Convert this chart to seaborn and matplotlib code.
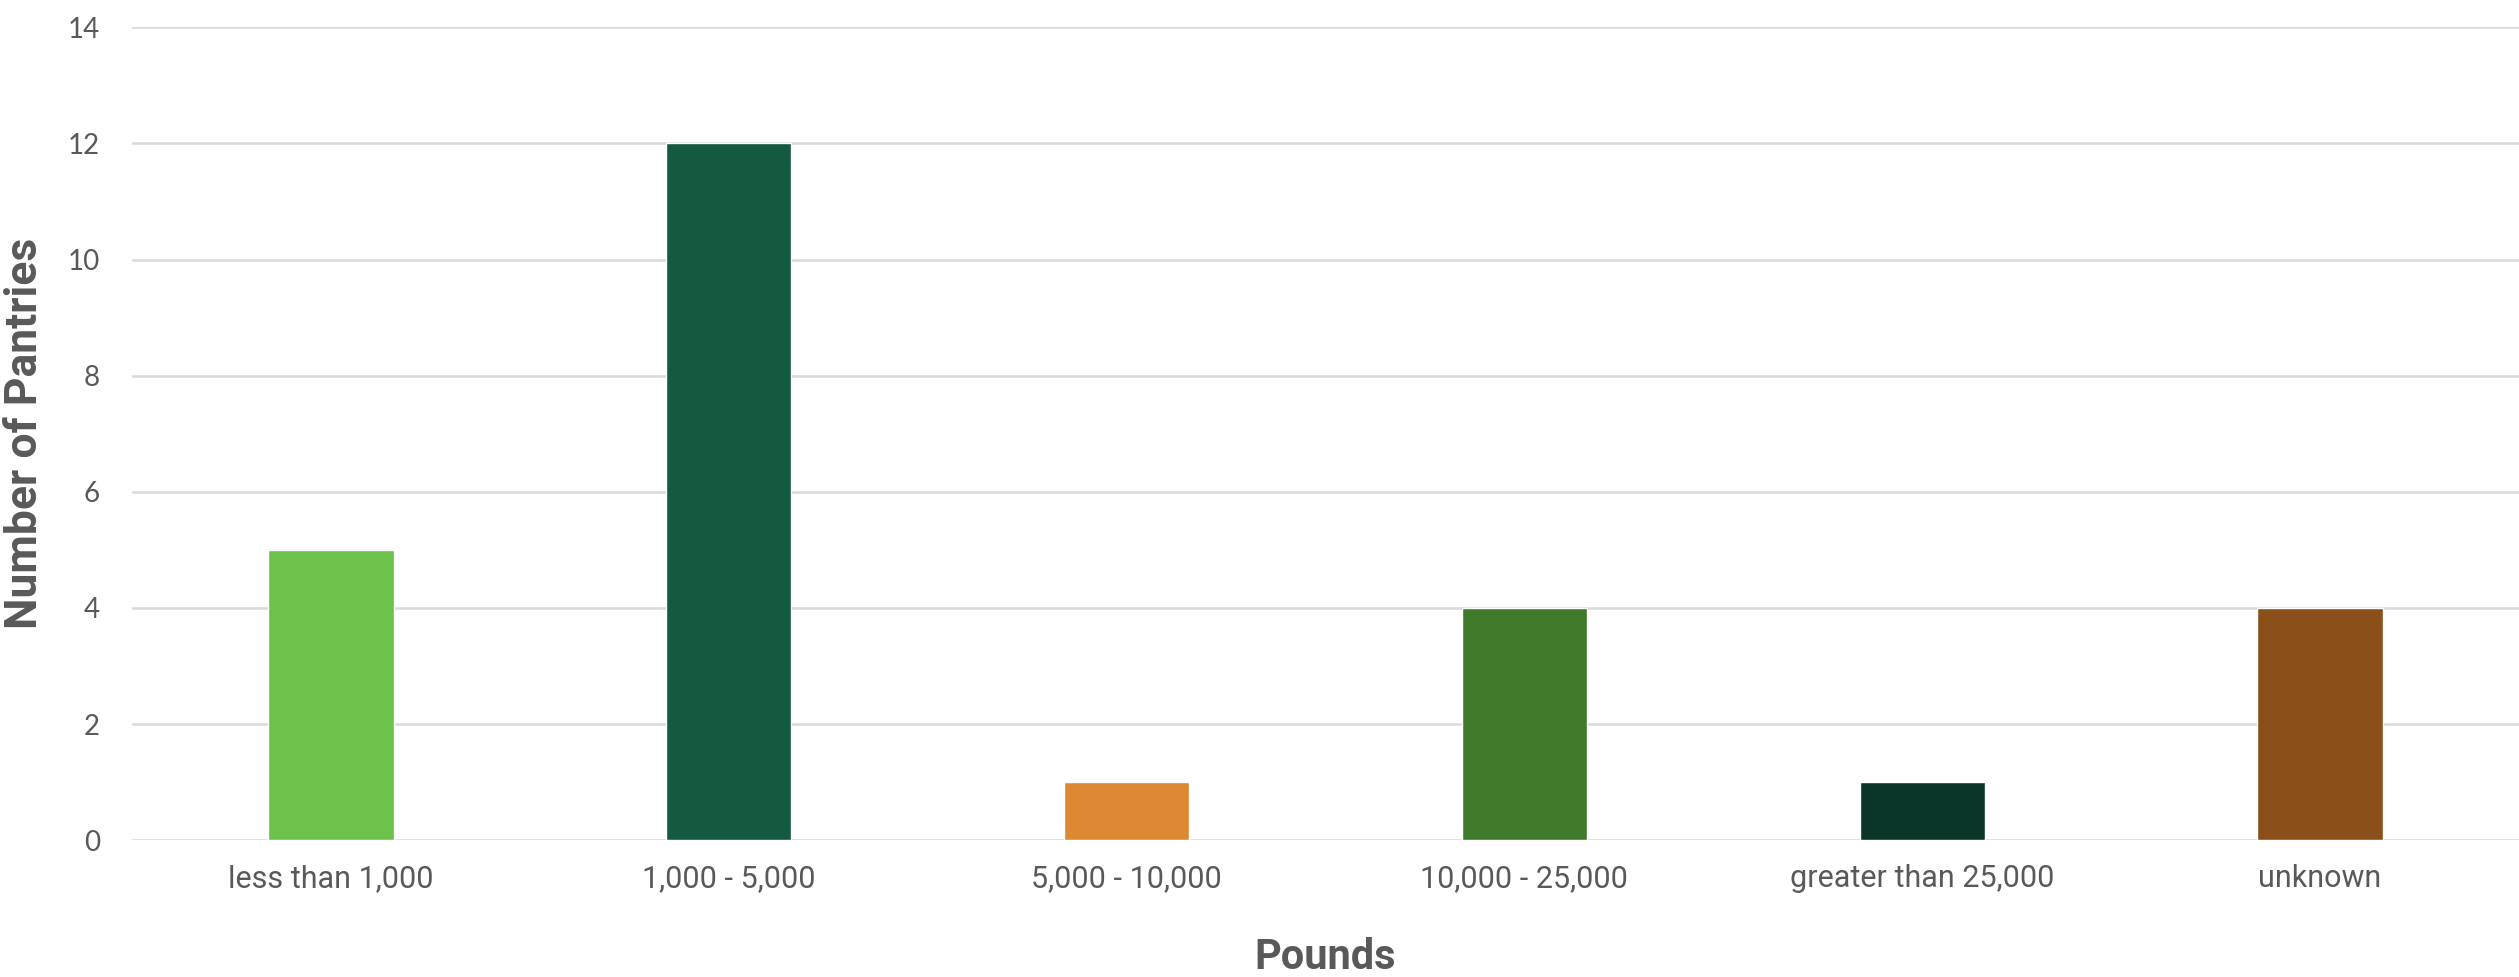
import pandas as pd
import seaborn as sns
import matplotlib.pyplot as plt

# Data
categories = ["less than 1,000", "1,000 - 5,000", "5,000 - 10,000",
              "10,000 - 25,000", "greater than 25,000", "unknown"]
pantries = [5, 12, 1, 4, 1, 4]
colors = ["#6CC24A", "#135A41", "#DD8833", "#3F7A2A", "#0B3528", "#8B5019"]

df = pd.DataFrame({"Pounds": categories, "Pantries": pantries})

sns.set_style("white")
plt.rcParams['font.family'] = ['Roboto', 'DejaVu Sans']
text_col = "#595959"

fig = plt.figure(figsize=(25.19, 9.77), dpi=100)
ax = fig.add_axes([0.0524, 0.140, 0.9476, 0.832])

sns.barplot(data=df, x="Pounds", y="Pantries", hue="Pounds", palette=colors,
            width=0.315, legend=False, ax=ax, saturation=1)

ax.set_ylim(0, 14)
ax.set_xlim(-0.5, 5.5)
ax.set_yticks(range(0, 15, 2))
ax.yaxis.grid(True, color="#D9D9D9", linewidth=1.8)
ax.set_axisbelow(True)
for s in ax.spines.values():
    s.set_visible(False)
ax.tick_params(axis="both", length=0, colors=text_col)
ax.tick_params(axis="x", labelsize=22, pad=17)
ax.tick_params(axis="y", labelsize=20, pad=23)
for t in ax.get_yticklabels():
    t.set_family("Lato")

ax.set_xlabel("Pounds", fontsize=30, fontweight="bold", color=text_col, labelpad=32)
ax.set_ylabel("Number of Pantries", fontsize=32, fontweight="bold", color=text_col)
ax.yaxis.set_label_coords(-0.036, 0.5)

fig.savefig("out.png", dpi=100)
